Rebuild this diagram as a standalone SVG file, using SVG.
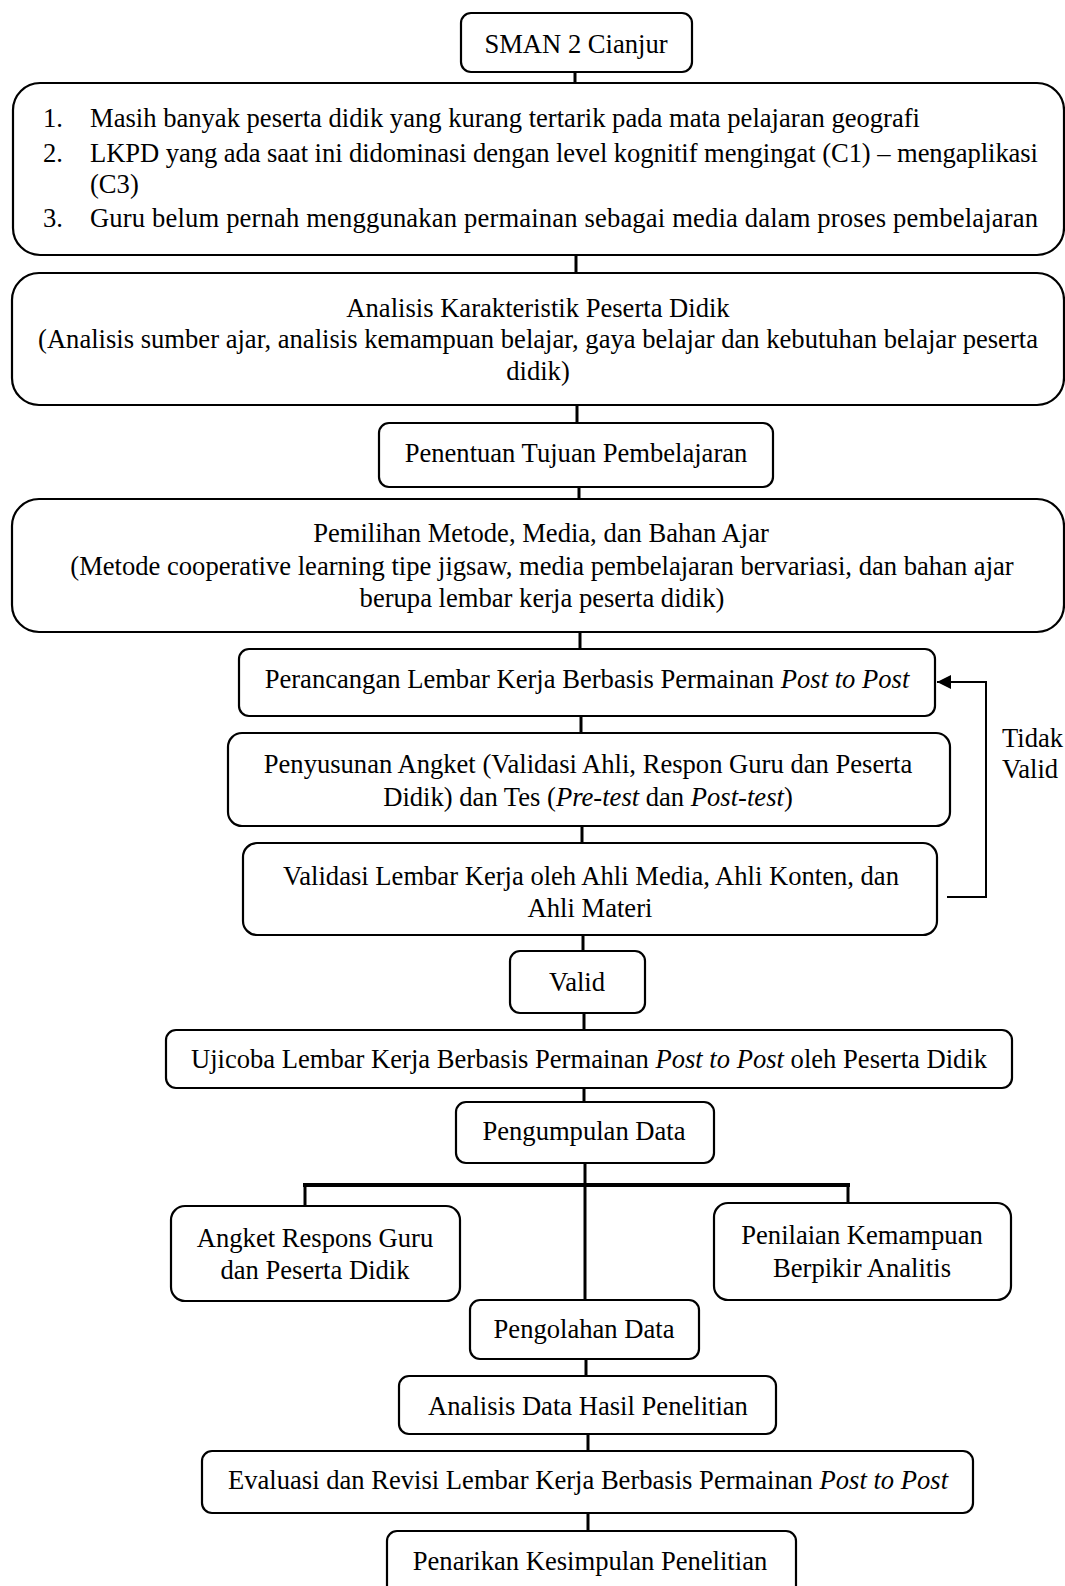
<svg xmlns="http://www.w3.org/2000/svg" width="1065" height="1586" viewBox="0 0 1065 1586">
<style>
  .box { fill: #ffffff; stroke: #000000; stroke-width: 2.2; }
  .t { font-family: "Liberation Serif", "Times New Roman", serif; font-size: 26.6px; fill: #000000; }
  .c { text-anchor: middle; }
  .i { font-style: italic; }
  .con { stroke: #000000; stroke-width: 3; fill: none; }
  .fb { stroke: #000000; stroke-width: 2; fill: none; }
</style>
<defs>
  <marker id="arr" markerWidth="14" markerHeight="14" refX="14" refY="7" orient="auto" markerUnits="userSpaceOnUse">
    <path d="M0,0 L14,7 L0,14 Z" fill="#000000"/>
  </marker>
</defs>
<rect width="1065" height="1586" fill="#ffffff"/>

<g id="connectors">
  <line class="con" x1="575" y1="72" x2="575" y2="83"/>
  <line class="con" x1="576" y1="255" x2="576" y2="273"/>
  <line class="con" x1="577" y1="405" x2="577" y2="423"/>
  <line class="con" x1="579" y1="487" x2="579" y2="499"/>
  <line class="con" x1="580" y1="632" x2="580" y2="649"/>
  <line class="con" x1="581" y1="716" x2="581" y2="733"/>
  <line class="con" x1="582" y1="826" x2="582" y2="843"/>
  <line class="con" x1="583" y1="935" x2="583" y2="951"/>
  <line class="con" x1="584" y1="1013" x2="584" y2="1030"/>
  <line class="con" x1="584" y1="1088" x2="584" y2="1102"/>
  <line class="con" x1="585" y1="1163" x2="585" y2="1300"/>
  <line class="con" x1="303" y1="1185" x2="850" y2="1185" style="stroke-width:4"/>
  <line class="con" x1="305" y1="1185" x2="305" y2="1206"/>
  <line class="con" x1="848" y1="1185" x2="848" y2="1203"/>
  <line class="con" x1="586" y1="1359" x2="586" y2="1376"/>
  <line class="con" x1="588" y1="1434" x2="588" y2="1451"/>
  <line class="con" x1="588" y1="1513" x2="588" y2="1531"/>
  <polyline class="fb" points="947,897 986,897 986,682 937,682" marker-end="url(#arr)"/>
  <text class="t" x="1002" y="747">Tidak</text>
  <text class="t" x="1002" y="778">Valid</text>
</g>

<g id="n1">
  <rect class="box" x="461" y="13" width="231" height="59" rx="10"/>
  <text class="t c" x="576" y="53">SMAN 2 Cianjur</text>
</g>

<g id="n2">
  <rect class="box" x="13" y="83" width="1051" height="172" rx="27"/>
  <text class="t" x="43" y="127">1.</text>
  <text class="t" x="90" y="127">Masih banyak peserta didik yang kurang tertarik pada mata pelajaran geografi</text>
  <text class="t" x="43" y="162">2.</text>
  <text class="t" x="90" y="162" textLength="948" lengthAdjust="spacing">LKPD yang ada saat ini didominasi dengan level kognitif mengingat (C1) – mengaplikasi</text>
  <text class="t" x="90" y="193">(C3)</text>
  <text class="t" x="43" y="227">3.</text>
  <text class="t" x="90" y="227" textLength="948" lengthAdjust="spacing">Guru belum pernah menggunakan permainan sebagai media dalam proses pembelajaran</text>
</g>

<g id="n3">
  <rect class="box" x="12" y="273" width="1052" height="132" rx="27"/>
  <text class="t c" x="538" y="317">Analisis Karakteristik Peserta Didik</text>
  <text class="t c" x="538" y="348">(Analisis sumber ajar, analisis kemampuan belajar, gaya belajar dan kebutuhan belajar peserta</text>
  <text class="t c" x="538" y="380">didik)</text>
</g>

<g id="n4">
  <rect class="box" x="379" y="423" width="394" height="64" rx="10"/>
  <text class="t c" x="576" y="462">Penentuan Tujuan Pembelajaran</text>
</g>

<g id="n5">
  <rect class="box" x="12" y="499" width="1052" height="133" rx="27"/>
  <text class="t c" x="541" y="542">Pemilihan Metode, Media, dan Bahan Ajar</text>
  <text class="t c" x="542" y="575">(Metode cooperative learning tipe jigsaw, media pembelajaran bervariasi, dan bahan ajar</text>
  <text class="t c" x="542" y="607">berupa lembar kerja peserta didik)</text>
</g>

<g id="n6">
  <rect class="box" x="239" y="649" width="696" height="67" rx="10"/>
  <text class="t c" x="587" y="688">Perancangan Lembar Kerja Berbasis Permainan <tspan class="i">Post to Post</tspan></text>
</g>

<g id="n7">
  <rect class="box" x="228" y="733" width="722" height="93" rx="14"/>
  <text class="t c" x="588" y="773">Penyusunan Angket (Validasi Ahli, Respon Guru dan Peserta</text>
  <text class="t c" x="588" y="806">Didik) dan Tes (<tspan class="i">Pre-test</tspan> dan <tspan class="i">Post-test</tspan>)</text>
</g>

<g id="n8">
  <rect class="box" x="243" y="843" width="694" height="92" rx="14"/>
  <text class="t c" x="591" y="885">Validasi Lembar Kerja oleh Ahli Media, Ahli Konten, dan</text>
  <text class="t c" x="590" y="917">Ahli Materi</text>
</g>

<g id="n9">
  <rect class="box" x="510" y="951" width="135" height="62" rx="10"/>
  <text class="t c" x="577" y="991">Valid</text>
</g>

<g id="n10">
  <rect class="box" x="166" y="1030" width="846" height="58" rx="10"/>
  <text class="t c" x="589" y="1068">Ujicoba Lembar Kerja Berbasis Permainan <tspan class="i">Post to Post</tspan> oleh Peserta Didik</text>
</g>

<g id="n11">
  <rect class="box" x="456" y="1102" width="258" height="61" rx="10"/>
  <text class="t c" x="584" y="1140">Pengumpulan Data</text>
</g>

<g id="n12">
  <rect class="box" x="171" y="1206" width="289" height="95" rx="14"/>
  <text class="t c" x="315" y="1247">Angket Respons Guru</text>
  <text class="t c" x="315" y="1279">dan Peserta Didik</text>
</g>

<g id="n13">
  <rect class="box" x="714" y="1203" width="297" height="97" rx="14"/>
  <text class="t c" x="862" y="1244">Penilaian Kemampuan</text>
  <text class="t c" x="862" y="1277">Berpikir Analitis</text>
</g>

<g id="n14">
  <rect class="box" x="470" y="1300" width="229" height="59" rx="10"/>
  <text class="t c" x="584" y="1338">Pengolahan Data</text>
</g>

<g id="n15">
  <rect class="box" x="399" y="1376" width="377" height="58" rx="10"/>
  <text class="t c" x="588" y="1415">Analisis Data Hasil Penelitian</text>
</g>

<g id="n16">
  <rect class="box" x="202" y="1451" width="771" height="62" rx="10"/>
  <text class="t c" x="588" y="1489">Evaluasi dan Revisi Lembar Kerja Berbasis Permainan <tspan class="i">Post to Post</tspan></text>
</g>

<g id="n17">
  <rect class="box" x="387" y="1531" width="409" height="72" rx="10"/>
  <text class="t c" x="590" y="1570">Penarikan Kesimpulan Penelitian</text>
</g>
</svg>
